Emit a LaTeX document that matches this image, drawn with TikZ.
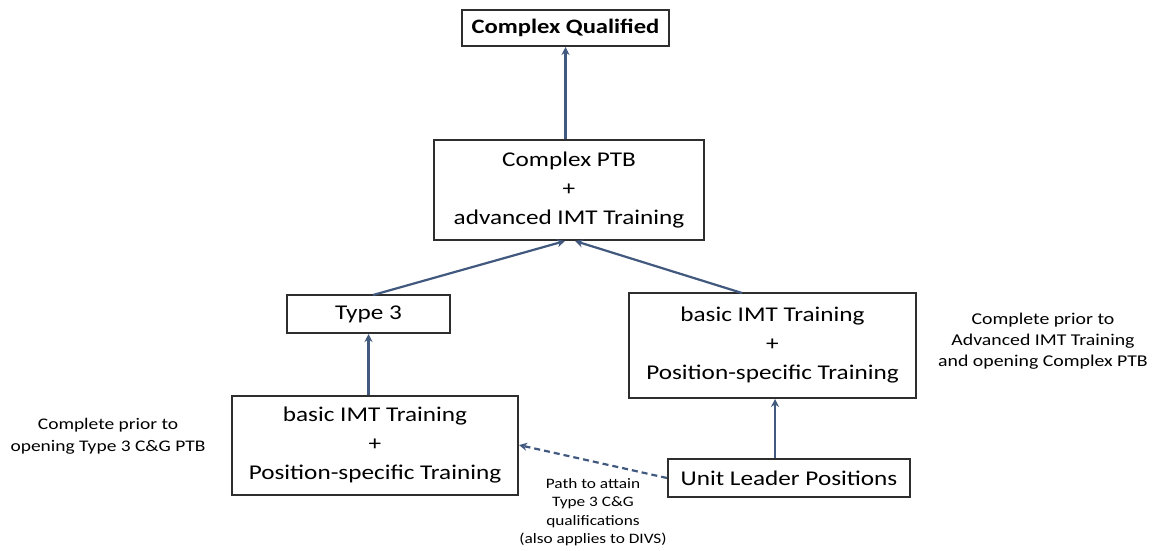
\documentclass[tikz,border=0pt]{standalone}
\usepackage{fontspec}
\setmainfont{Carlito}[FakeStretch=1.2]
\usetikzlibrary{arrows.meta}
\definecolor{boxline}{HTML}{2E2E2E}
\definecolor{arrowcol}{HTML}{41597F}
\begin{document}
\begin{tikzpicture}[x=1pt,y=-1pt,
  box/.style={draw=boxline,line width=2pt,align=center,inner sep=0pt,text=black},
  big/.style={font=\fontsize{21}{29}\selectfont},
  conn/.style={draw=arrowcol,line width=2.2pt,-{Stealth[length=8pt,width=8pt]}},
  dconn/.style={conn,dash pattern=on 6pt off 4pt},
  note/.style={align=center,text=black},
  smallnote/.style={align=center,font=\fontsize{14.4}{18.3}\selectfont,text=black}]
\useasboundingbox (0,0) rectangle (1153,550);
\fill[white] (0,0) rectangle (1153,550);
\node[box,minimum width=207pt,minimum height=36pt,font=\fontsize{20.5}{29}\selectfont\bfseries] (cq) at (565.5,28) {Complex Qualified};
\node[box,big,minimum width=270pt,minimum height=100pt] (ptb) at (569,190) {Complex PTB\\+\\advanced IMT Training};
\node[box,big,minimum width=163pt,minimum height=38pt] (t3) at (368.5,314) {Type 3};
\node[box,big,minimum width=287pt,minimum height=105pt] (rb) at (772.5,345.5) {basic IMT Training\\+\\Position-specific Training};
\node[box,big,minimum width=286pt,minimum height=99pt] (lb) at (375,445.5) {basic IMT Training\\+\\Position-specific Training};
\node[box,big,minimum width=242pt,minimum height=38pt] (ul) at (789,478) {Unit Leader Positions};
\node[note,font=\fontsize{16.2}{22}\selectfont] (n1) at (108,436) {Complete prior to\\opening Type 3 C\&G PTB};
\node[note,font=\fontsize{16.5}{21}\selectfont] (n2) at (1043,341) {Complete prior to\\Advanced IMT Training\\and opening Complex PTB};
\node[smallnote] (n3) at (593,512) {Path to attain\\Type 3 C\&G\\qualifications\\(also applies to DIVS)};
\coordinate (ptbl) at (565,241);
\coordinate (ptbr) at (575,241);
\coordinate (t3a) at (373,295);
\coordinate (rba) at (742,293);
\draw[conn] (ptb.north -| cq) -- (cq.south);
\draw[conn] (t3a) -- (ptbl);
\draw[conn] (rba) -- (ptbr);
\draw[conn] (lb.north -| t3) -- (t3.south);
\draw[conn] (ul.north -| 775,0) -- (rb.south -| 775,0);
\draw[dconn] (ul.west) -- (lb.east |- 0,445);
\end{tikzpicture}
\end{document}
